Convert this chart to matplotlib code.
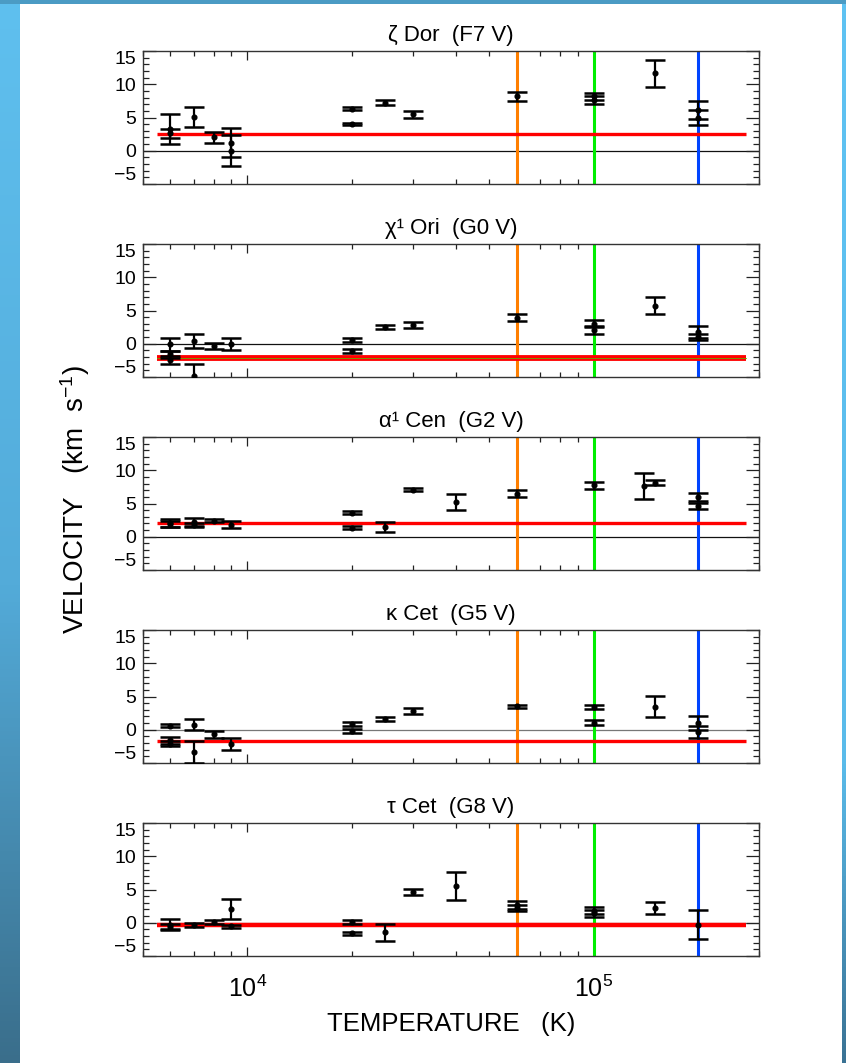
import numpy as np
import matplotlib
matplotlib.use("Agg")
import matplotlib.pyplot as plt
from matplotlib.colors import LinearSegmentedColormap
from matplotlib.patches import Rectangle
from matplotlib.ticker import FixedLocator, LogLocator, NullFormatter

plt.rcParams["font.family"] = ["Liberation Sans", "DejaVu Sans"]
plt.rcParams["mathtext.fontset"] = "custom"
plt.rcParams["mathtext.rm"] = "Liberation Sans"
plt.rcParams["mathtext.it"] = "Liberation Sans:italic"

W, H = 846, 1063

# star names and spectral types, top to bottom
titles = ["ζ Dor  (F7 V)", "χ¹ Ori  (G0 V)", "α¹ Cen  (G2 V)", "κ Cet  (G5 V)", "τ Cet  (G8 V)"]

# line formation temperature (K), velocity (km/s), 1-sigma error
zeta_t = [6e3, 6e3, 7e3, 8e3, 9e3, 9e3, 2e4, 2e4, 2.5e4, 3e4, 6e4, 1e5, 1e5, 1.5e5, 2e5, 2e5]
zeta_v = [3.3, 2.6, 5.1, 2.0, 1.2, 0.0, 6.35, 4.0, 7.25, 5.5, 8.2, 8.2, 7.6, 11.65, 6.1, 5.0]
zeta_e = [2.3, 0.7, 1.5, 0.85, 2.2, 2.3, 0.2, 0.2, 0.4, 0.5, 0.7, 0.5, 0.6, 2.05, 1.4, 1.2]

chi_t = [6e3, 6e3, 6e3, 7e3, 7e3, 8e3, 9e3, 2e4, 2e4, 2.5e4, 3e4, 6e4, 1e5, 1e5, 1.5e5, 2e5, 2e5]
chi_v = [-0.1, -1.6, -2.4, 0.4, -4.8, -0.35, -0.1, 0.5, -1.1, 2.5, 2.85, 3.9, 3.0, 2.1, 5.75, 1.7, 1.0]
chi_e = [1.0, 0.5, 0.6, 1.0, 1.7, 0.5, 0.9, 0.3, 0.3, 0.3, 0.45, 0.55, 0.5, 0.6, 1.3, 0.9, 0.5]

alp_t = [6e3, 6e3, 7e3, 7e3, 8e3, 9e3, 2e4, 2e4, 2.5e4, 3e4, 4e4, 6e4, 1e5, 1.4e5, 1.5e5, 2e5, 2e5]
alp_v = [2.1, 1.9, 2.2, 1.8, 2.4, 1.8, 3.6, 1.35, 1.45, 7.1, 5.25, 6.5, 7.75, 7.65, 8.15, 6.0, 4.6]
alp_e = [0.6, 0.4, 0.6, 0.3, 0.2, 0.5, 0.2, 0.25, 0.8, 0.2, 1.2, 0.55, 0.55, 1.9, 0.4, 0.6, 0.5]

kap_t = [6e3, 6e3, 6e3, 7e3, 7e3, 8e3, 9e3, 2e4, 2e4, 2.5e4, 3e4, 6e4, 1e5, 1e5, 1.5e5, 2e5, 2e5]
kap_v = [0.6, -1.6, -2.1, 0.75, -3.3, -0.7, -2.1, 0.8, -0.2, 1.6, 2.85, 3.5, 3.4, 1.05, 3.45, 1.0, -0.4]
kap_e = [0.2, 0.5, 0.4, 0.85, 1.65, 0.5, 0.9, 0.3, 0.3, 0.3, 0.45, 0.25, 0.3, 0.4, 1.6, 1.0, 0.9]

tau_t = [6e3, 6e3, 7e3, 8e3, 9e3, 9e3, 2e4, 2e4, 2.5e4, 3e4, 4e4, 6e4, 6e4, 1e5, 1e5, 1.5e5, 2e5]
tau_v = [-0.3, -0.6, -0.4, 0.05, 2.05, -0.55, 0.1, -1.6, -1.45, 4.6, 5.55, 2.6, 2.2, 1.8, 1.4, 2.2, -0.3]
tau_e = [0.8, 0.4, 0.3, 0.3, 1.5, 0.25, 0.3, 0.2, 1.25, 0.5, 2.1, 0.6, 0.5, 0.5, 0.5, 0.85, 2.2]

# stellar radial velocity (photospheric reference) for each star
star_rv = [2.5, -2.1, 2.1, -1.7, -0.4]
rv_span = [5.5e3, 2.75e5]

# reference temperatures marked with vertical lines
ref_temps = [6e4, 1e5, 2e5]
ref_colors = ["#ff7f00", "#00ee00", "#0044ff"]

yticks = [-5, 0, 5, 10, 15]
ytick_labels = ["\u22125", "0", "5", "10", "15"]

# per-panel styling
rv_widths = [2.4, 4.2, 2.4, 2.4, 3.2]
zero_colors = ["#111111", "#111111", "#111111", "#777777", "#777777"]


def draw_frame(fig):
    bg = fig.add_axes([0, 0, 1, 1], zorder=-10)
    bg.axis("off")
    left_cmap = LinearSegmentedColormap.from_list(
        "left", [(0, "#5fc0ef"), (0.55, "#53abd9"), (1, "#3a6e8b")])
    right_cmap = LinearSegmentedColormap.from_list(
        "right", [(0, "#5fc3f3"), (0.72, "#5abbea"), (1, "#3a7294")])
    grad = np.linspace(0, 1, 256).reshape(-1, 1)
    bg.add_patch(Rectangle((0, 0), W, 4, color="#4b9bc4", lw=0))
    bg.imshow(grad, extent=(0, 20, H, 0), cmap=left_cmap, aspect="auto")
    bg.imshow(grad, extent=(842, W, H, 0), cmap=right_cmap, aspect="auto")
    bg.set_xlim(0, W)
    bg.set_ylim(H, 0)


def draw_panel(ax, i, temps, vels, errs, last):
    ax.set_xscale("log")
    ax.set_xlim(5e3, 3e5)
    ax.set_ylim(-5, 15)

    ax.axhline(0, color=zero_colors[i], lw=0.9, zorder=1)
    for t, c in zip(ref_temps, ref_colors):
        ax.axvline(t, color=c, lw=2.2, zorder=2)
    ax.plot(rv_span, [star_rv[i]] * 2, color="#ff0000", lw=rv_widths[i],
            solid_capstyle="butt", zorder=3)
    if i == 1:
        ax.plot(rv_span, [star_rv[i]] * 2, color="#66aa00", lw=0.6, zorder=3)

    ax.errorbar(temps, vels, yerr=errs, fmt="o", ms=3.4, color="k", ecolor="k",
                elinewidth=1.6, capsize=7, capthick=1.8, zorder=4)

    ax.set_title(titles[i], fontsize=16, pad=7)

    ax.yaxis.set_major_locator(FixedLocator(yticks))
    ax.set_yticklabels(ytick_labels)
    ax.yaxis.set_minor_locator(FixedLocator(np.arange(-5, 16, 1)))
    labels = ax.get_yticklabels()
    labels[0].set_va("bottom")
    labels[-1].set_va("top")

    ax.xaxis.set_major_locator(LogLocator(base=10, numticks=10))
    ax.xaxis.set_minor_locator(LogLocator(base=10, subs=np.arange(2, 10), numticks=20))
    ax.xaxis.set_minor_formatter(NullFormatter())

    ax.tick_params(which="both", direction="in", top=True, right=True,
                   color="#222222", width=0.9)
    ax.tick_params(axis="y", which="major", length=9.5, labelsize=14, pad=5)
    ax.tick_params(axis="y", which="minor", length=4.5)
    ax.tick_params(axis="x", which="major", length=6.5, labelsize=18, pad=14)
    ax.tick_params(axis="x", which="minor", length=3.6)
    ax.tick_params(axis="x", labelbottom=last)

    for s in ax.spines.values():
        s.set_color("#333333")
        s.set_linewidth(1.0)


def main():
    fig = plt.figure(figsize=(W / 100, H / 100), dpi=100)
    draw_frame(fig)

    data = [(zeta_t, zeta_v, zeta_e), (chi_t, chi_v, chi_e), (alp_t, alp_v, alp_e),
            (kap_t, kap_v, kap_e), (tau_t, tau_v, tau_e)]
    left, right = 143, 759
    tops = [51, 244, 437, 630, 823]
    height = 133
    for i, (t, v, e) in enumerate(data):
        ax = fig.add_axes([left / W, 1 - (tops[i] + height) / H,
                           (right - left) / W, height / H])
        draw_panel(ax, i, t, v, e, last=(i == len(data) - 1))

    fig.text(75 / W, 1 - 500 / H, "VELOCITY   (km  s$^{-1}$)", rotation=90,
             ha="center", va="center", fontsize=20)
    fig.text(451 / W, 1 - 1024 / H, "TEMPERATURE   (K)", ha="center",
             va="center", fontsize=18.5)

    fig.savefig("out.png", dpi=100)
    plt.close(fig)


if __name__ == "__main__":
    main()
